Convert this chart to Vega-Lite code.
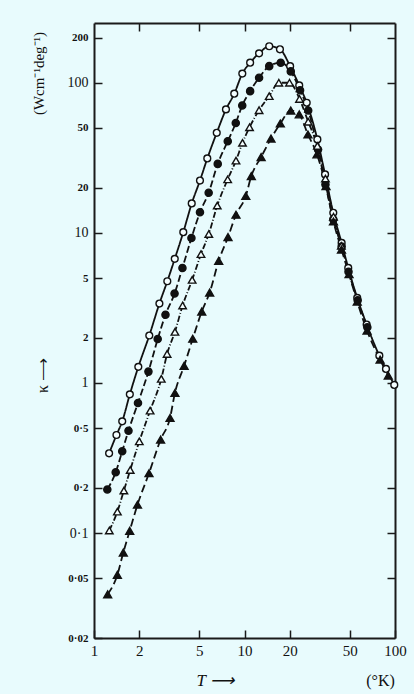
{
  "$schema": "https://vega.github.io/schema/vega-lite/v6.json",
  "width": 301,
  "height": 615,
  "autosize": {"type": "none"},
  "padding": {"left": 94, "top": 23, "right": 19, "bottom": 56},
  "background": "#e8fbfd",
  "config": {
    "view": {"stroke": null},
    "font": "Liberation Serif",
    "axis": {
      "domainColor": "#1a1a1a",
      "domainWidth": 2,
      "tickColor": "#1a1a1a",
      "tickWidth": 1.5,
      "labelColor": "#111",
      "titleColor": "#111",
      "grid": false,
      "labelFont": "Liberation Serif",
      "titleFont": "Liberation Serif",
      "titleFontWeight": "normal"
    }
  },
  "data": {
    "values": [
      {"s": "oc", "T": 1.26, "k": 0.34}, {"s": "oc", "T": 1.41, "k": 0.45}, {"s": "oc", "T": 1.54, "k": 0.555},
      {"s": "oc", "T": 1.73, "k": 0.84}, {"s": "oc", "T": 1.97, "k": 1.28}, {"s": "oc", "T": 2.33, "k": 2.07},
      {"s": "oc", "T": 2.72, "k": 3.38}, {"s": "oc", "T": 3.07, "k": 4.76}, {"s": "oc", "T": 3.44, "k": 6.71},
      {"s": "oc", "T": 3.92, "k": 10.1}, {"s": "oc", "T": 4.46, "k": 15.7}, {"s": "oc", "T": 5.06, "k": 22.3},
      {"s": "oc", "T": 5.66, "k": 31.3}, {"s": "oc", "T": 6.54, "k": 46.4}, {"s": "oc", "T": 7.53, "k": 66.4},
      {"s": "oc", "T": 8.55, "k": 84.5}, {"s": "oc", "T": 9.67, "k": 115}, {"s": "oc", "T": 10.9, "k": 136},
      {"s": "oc", "T": 12.5, "k": 157}, {"s": "oc", "T": 14.6, "k": 175}, {"s": "oc", "T": 17.2, "k": 167},
      {"s": "oc", "T": 20.1, "k": 129}, {"s": "oc", "T": 23.1, "k": 96}, {"s": "oc", "T": 25.9, "k": 73.6},
      {"s": "oc", "T": 30.5, "k": 41.9}, {"s": "oc", "T": 34.3, "k": 24.5}, {"s": "oc", "T": 38.9, "k": 13.6},
      {"s": "oc", "T": 44.2, "k": 8.57}, {"s": "oc", "T": 48.9, "k": 5.84}, {"s": "oc", "T": 56.1, "k": 3.69},
      {"s": "oc", "T": 64.8, "k": 2.45}, {"s": "oc", "T": 78.7, "k": 1.52}, {"s": "oc", "T": 87.1, "k": 1.24},
      {"s": "oc", "T": 98.9, "k": 0.97},

      {"s": "fc", "T": 1.226, "k": 0.195}, {"s": "fc", "T": 1.394, "k": 0.254}, {"s": "fc", "T": 1.54, "k": 0.351},
      {"s": "fc", "T": 1.695, "k": 0.481}, {"s": "fc", "T": 1.96, "k": 0.736}, {"s": "fc", "T": 2.3, "k": 1.19},
      {"s": "fc", "T": 2.65, "k": 1.96}, {"s": "fc", "T": 2.985, "k": 2.85}, {"s": "fc", "T": 3.43, "k": 3.94},
      {"s": "fc", "T": 3.87, "k": 5.84}, {"s": "fc", "T": 4.44, "k": 9.23}, {"s": "fc", "T": 5.06, "k": 13.7},
      {"s": "fc", "T": 5.78, "k": 18.5}, {"s": "fc", "T": 6.64, "k": 28.8}, {"s": "fc", "T": 7.74, "k": 40.8},
      {"s": "fc", "T": 8.75, "k": 53.9}, {"s": "fc", "T": 9.66, "k": 70.6}, {"s": "fc", "T": 10.9, "k": 87.9},
      {"s": "fc", "T": 12.5, "k": 108}, {"s": "fc", "T": 14.6, "k": 129}, {"s": "fc", "T": 17.4, "k": 136},
      {"s": "fc", "T": 20.3, "k": 119}, {"s": "fc", "T": 23.4, "k": 89.1}, {"s": "fc", "T": 26.5, "k": 65.3},
      {"s": "fc", "T": 30.8, "k": 35.9}, {"s": "fc", "T": 34.5, "k": 21}, {"s": "fc", "T": 38.9, "k": 12.3},
      {"s": "fc", "T": 44.2, "k": 8.1}, {"s": "fc", "T": 49.1, "k": 5.5}, {"s": "fc", "T": 56.5, "k": 3.55},
      {"s": "fc", "T": 65.5, "k": 2.35},

      {"s": "ot", "T": 1.264, "k": 0.104}, {"s": "ot", "T": 1.43, "k": 0.139}, {"s": "ot", "T": 1.58, "k": 0.192},
      {"s": "ot", "T": 1.74, "k": 0.263}, {"s": "ot", "T": 2.0, "k": 0.408}, {"s": "ot", "T": 2.36, "k": 0.654},
      {"s": "ot", "T": 2.8, "k": 1.065}, {"s": "ot", "T": 3.06, "k": 1.56}, {"s": "ot", "T": 3.45, "k": 2.19},
      {"s": "ot", "T": 3.88, "k": 3.28}, {"s": "ot", "T": 4.49, "k": 4.86}, {"s": "ot", "T": 5.14, "k": 7.22},
      {"s": "ot", "T": 5.79, "k": 9.82}, {"s": "ot", "T": 6.59, "k": 15.2}, {"s": "ot", "T": 7.73, "k": 22.7},
      {"s": "ot", "T": 8.78, "k": 30.3}, {"s": "ot", "T": 9.7, "k": 39.8}, {"s": "ot", "T": 10.8, "k": 50.5},
      {"s": "ot", "T": 12.5, "k": 65.6}, {"s": "ot", "T": 14.6, "k": 81.5}, {"s": "ot", "T": 16.9, "k": 100},
      {"s": "ot", "T": 19.9, "k": 100}, {"s": "ot", "T": 23.2, "k": 78}, {"s": "ot", "T": 26.5, "k": 55},
      {"s": "ot", "T": 30.5, "k": 38}, {"s": "ot", "T": 34.5, "k": 23}, {"s": "ot", "T": 39, "k": 12.8},
      {"s": "ot", "T": 44, "k": 8.2},

      {"s": "ft", "T": 1.233, "k": 0.0391}, {"s": "ft", "T": 1.43, "k": 0.0527}, {"s": "ft", "T": 1.566, "k": 0.0742},
      {"s": "ft", "T": 1.727, "k": 0.1036}, {"s": "ft", "T": 1.945, "k": 0.1545}, {"s": "ft", "T": 2.32, "k": 0.2505},
      {"s": "ft", "T": 2.77, "k": 0.419}, {"s": "ft", "T": 3.2, "k": 0.585}, {"s": "ft", "T": 3.45, "k": 0.858},
      {"s": "ft", "T": 3.97, "k": 1.3}, {"s": "ft", "T": 4.53, "k": 1.97}, {"s": "ft", "T": 5.2, "k": 2.99},
      {"s": "ft", "T": 5.87, "k": 4.0}, {"s": "ft", "T": 6.74, "k": 6.51}, {"s": "ft", "T": 7.77, "k": 9.37},
      {"s": "ft", "T": 8.78, "k": 13.2}, {"s": "ft", "T": 10.2, "k": 17.6}, {"s": "ft", "T": 11.1, "k": 23.9},
      {"s": "ft", "T": 12.9, "k": 32.0}, {"s": "ft", "T": 15.0, "k": 42.5}, {"s": "ft", "T": 17.3, "k": 53.5},
      {"s": "ft", "T": 20.3, "k": 65.3}, {"s": "ft", "T": 23.1, "k": 61.5}, {"s": "ft", "T": 26.4, "k": 45.2},
      {"s": "ft", "T": 30.3, "k": 33.3}, {"s": "ft", "T": 34.8, "k": 20.5}, {"s": "ft", "T": 39.0, "k": 11.9},
      {"s": "ft", "T": 44.1, "k": 7.74}, {"s": "ft", "T": 49.5, "k": 5.3}, {"s": "ft", "T": 56.1, "k": 3.48},
      {"s": "ft", "T": 65.2, "k": 2.23}, {"s": "ft", "T": 79.6, "k": 1.43}, {"s": "ft", "T": 90.2, "k": 1.12}
    ]
  },
  "resolve": {"axis": {"x": "independent", "y": "independent"}},
  "layer": [
    {
      "encoding": {
        "x": {
          "field": "T", "type": "quantitative",
          "scale": {"type": "log", "domain": [1, 100], "nice": false, "zero": false},
          "axis": {
            "orient": "bottom",
            "values": [1, 2, 5, 10, 20, 50, 100],
            "format": "~g",
            "tickSize": -8,
            "labelFontSize": 15,
            "labelPadding": 13,
            "labelFlush": false,
            "title": "T ⟶",
            "titleFontSize": 17,
            "titleFontStyle": "italic",
            "titleAnchor": "start",
            "titleAlign": "left",
            "titleBaseline": "alphabetic",
            "titleX": 102,
            "titleY": 47
          }
        },
        "y": {
          "field": "k", "type": "quantitative",
          "scale": {"type": "log", "domain": [0.02, 250], "nice": false, "zero": false},
          "axis": {
            "orient": "left",
            "values": [0.02, 0.05, 0.1, 0.2, 0.5, 1, 2, 5, 10, 20, 50, 100, 200],
            "format": "~g",
            "labelExpr": "replace(datum.label, '.', '·')",
            "tickSize": -8,
            "labelFontSize": {"condition": {"test": "datum.value == 100 || datum.value == 10 || datum.value == 1 || datum.value == 0.1", "value": 14}, "value": 11},
            "labelFontWeight": {"condition": {"test": "datum.value == 100 || datum.value == 10 || datum.value == 1 || datum.value == 0.1", "value": "normal"}, "value": "bold"},
            "labelPadding": 14,
            "labelFlush": false,
            "title": "κ ⟶",
            "titleFontSize": 16,
            "titleAngle": -90,
            "titleAlign": "center",
            "titleBaseline": "middle",
            "titleX": -52,
            "titleY": 352
          }
        }
      },
      "layer": [
        {
          "mark": {"type": "line", "color": "#111", "strokeWidth": 1.8, "interpolate": "monotone"},
          "encoding": {
            "strokeDash": {
              "field": "s", "type": "nominal",
              "scale": {"domain": ["oc", "fc", "ot", "ft"], "range": [[1, 0], [7, 3], [6, 2, 1, 2], [8, 4]]},
              "legend": null
            }
          }
        },
        {
          "mark": {"type": "point", "filled": true, "stroke": "#111", "strokeWidth": 1.4, "opacity": 1},
          "encoding": {
            "shape": {
              "field": "s", "type": "nominal",
              "scale": {"domain": ["oc", "fc", "ot", "ft"], "range": ["circle", "circle", "triangle-up", "triangle-up"]},
              "legend": null
            },
            "fill": {
              "field": "s", "type": "nominal",
              "scale": {"domain": ["oc", "fc", "ot", "ft"], "range": ["#f4feff", "#111111", "#f4feff", "#111111"]},
              "legend": null
            },
            "size": {
              "field": "s", "type": "nominal",
              "scale": {"domain": ["oc", "fc", "ot", "ft"], "range": [46, 62, 48, 64]},
              "legend": null
            }
          }
        }
      ]
    },
    {
      "mark": {"type": "point", "opacity": 0},
      "encoding": {
        "x": {
          "field": "T", "type": "quantitative",
          "axis": {"orient": "top", "values": [2, 5, 10, 20, 50], "labels": false, "tickSize": -8, "title": null}
        },
        "y": {
          "field": "k", "type": "quantitative",
          "axis": {"orient": "right", "values": [0.05, 0.1, 0.2, 0.5, 1, 2, 5, 10, 20, 50, 100, 200], "labels": false, "tickSize": -8, "title": null}
        }
      }
    },
    {
      "mark": {"type": "point", "opacity": 0},
      "encoding": {
        "x": {
          "field": "T", "type": "quantitative",
          "axis": {
            "orient": "bottom", "labels": false, "ticks": false, "domain": false,
            "title": "(°K)", "titleFontSize": 16,
            "titleAlign": "center", "titleBaseline": "alphabetic",
            "titleX": 286, "titleY": 47
          }
        },
        "y": {
          "field": "k", "type": "quantitative",
          "axis": {
            "orient": "left", "labels": false, "ticks": false, "domain": false,
            "title": "(Wcm⁻¹deg⁻¹)", "titleFontSize": 15,
            "titleAngle": -90, "titleAlign": "center", "titleBaseline": "middle",
            "titleX": -56, "titleY": 50
          }
        }
      }
    }
  ]
}
